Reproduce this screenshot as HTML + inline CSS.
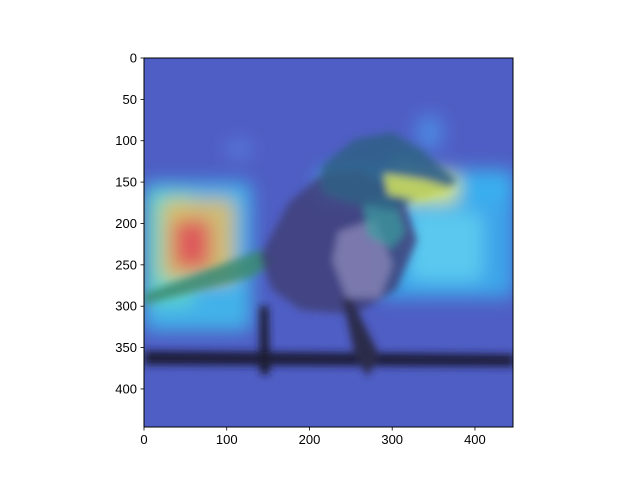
<!DOCTYPE html>
<html><head><meta charset="utf-8"><style>
html,body{margin:0;padding:0;background:#fff;}
svg{display:block;font-family:"Liberation Sans","DejaVu Sans",sans-serif;}
</style></head><body>
<svg id="chart" width="640" height="480" viewBox="0 0 640 480">
<defs>
<filter id="blur" x="-50%" y="-50%" width="200%" height="200%"><feGaussianBlur stdDeviation="9"/></filter>
<filter id="blur2" x="-50%" y="-50%" width="200%" height="200%"><feGaussianBlur stdDeviation="4"/></filter>
<clipPath id="clip"><rect x="144" y="58" width="369" height="369"/></clipPath>
</defs>
<g clip-path="url(#clip)">
<rect x="144" y="58" width="369" height="369" fill="#4f5ec4"/>
<g id="heat" filter="url(#blur)"></g>
<g id="bird" filter="url(#blur2)"></g>
</g>
<rect x="144" y="58" width="369" height="369" fill="none" stroke="#000" stroke-width="1"/>
<g id="axes"></g>
</svg>
<script>
const xTicks=[0,100,200,300,400];
const yTicks=[0,50,100,150,200,250,300,350,400];
const heatX0=[0,0,20,35,210,280,320,300,330,100,300];
const heatY0=[150,160,170,195,135,140,185,140,70,100,120];
const heatX1=[130,60,110,80,448,448,410,380,360,130,330];
const heatY1=[330,300,270,255,175,290,270,175,110,120,140];
const heatCol=["#3fc0f0","#60d8c8","#e8c060","#e04858","#40b8f0","#38b0f0","#60d0f0","#f0f060","#4c90e8","#5a80e0","#3fd0c0"];
const SX=369/446, X0=144, Y0=58;
const sx=v=>X0+v*SX, sy=v=>Y0+v*SX;
const NS="http://www.w3.org/2000/svg";
function mk(tag,attrs,parent){const e=document.createElementNS(NS,tag);for(const k in attrs)e.setAttribute(k,attrs[k]);parent.appendChild(e);return e;}
const heat=document.getElementById('heat');
for(let i=0;i<heatX0.length;i++){
 const r=mk('rect',{x:sx(heatX0[i]),y:sy(heatY0[i]),width:(heatX1[i]-heatX0[i])*SX,height:(heatY1[i]-heatY0[i])*SX,fill:heatCol[i],opacity:0.85,rx:8},heat);
 
 
}
const bird=document.getElementById('bird');
function poly(pts,fill,name,op){const p=mk('polygon',{points:pts.map(q=>sx(q[0])+','+sy(q[1])).join(' '),fill:fill,opacity:op||1},bird);}
poly([[0,285],[0,298],[130,265],[160,245],[140,232]],"#3a8a70","bird-tail",0.85);
poly([[140,240],[175,175],[215,140],[260,135],[310,160],[330,220],[305,280],[255,310],[190,305],[155,280]],"#3e3e78","bird-body",0.85);
poly([[235,210],[280,195],[300,250],[285,290],[245,290],[228,245]],"#8886b8","bird-belly",0.8);
poly([[265,175],[300,165],[315,210],[300,230],[270,215]],"#3aa0a0","bird-chest",0.7);
poly([[215,130],[255,98],[300,90],[335,110],[378,148],[365,160],[330,170],[300,185],[250,175],[215,160]],"#2f5f85","bird-head",0.85);
poly([[290,140],[340,148],[372,158],[335,172],[295,165]],"#c8d860","bird-cheek",0.9);
poly([[0,354],[448,358],[448,373],[0,371]],"#1a1a3a","wire",1);
poly([[140,300],[150,300],[152,382],[140,382]],"#1a1a30","bird-leg-left",1);
poly([[240,290],[250,290],[285,360],[270,385],[255,360]],"#2a2a48","bird-leg-right",1);
const axes=document.getElementById('axes');
xTicks.forEach(t=>{
 const l=mk('line',{x1:sx(t),x2:sx(t),y1:427,y2:430.5,stroke:'#000','stroke-width':0.8},axes);
 
 const tx=mk('text',{x:sx(t),y:444,'font-size':13,'text-anchor':'middle',fill:'#000'},axes);tx.textContent=t;
 
});
yTicks.forEach(t=>{
 const l=mk('line',{x1:140.5,x2:144,y1:sy(t),y2:sy(t),stroke:'#000','stroke-width':0.8},axes);
 
 const tx=mk('text',{x:137,y:sy(t)+4.5,'font-size':13,'text-anchor':'end',fill:'#000'},axes);tx.textContent=t;
 
});
</script>
</body></html>
